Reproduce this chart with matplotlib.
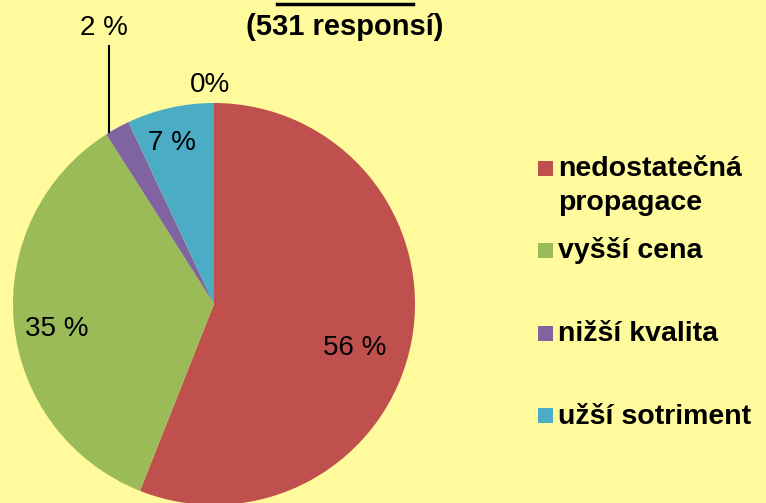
import matplotlib
matplotlib.use("Agg")
import matplotlib.pyplot as plt
from matplotlib.patches import Rectangle

plt.rcParams["font.family"] = ["Liberation Sans", "DejaVu Sans"]

# data
categories = ["nedostatečná\npropagace", "vyšší cena", "nižší kvalita", "užší sotriment"]
values = [56, 35, 2, 7]
labels = ["56 %", "35 %", "2 %", "7 %"]
colors = ["#C0504D", "#9BBB59", "#8064A2", "#4BACC6"]
extra_label = "0%"
subtitle = "(531 responsí)"

W, H = 766, 503
bg = "#FFFA9B"
fig = plt.figure(figsize=(W / 100, H / 100), dpi=100, facecolor=bg)


def fx(x):
    return x / W


def fy(y):
    return 1 - y / H


# pie: centre (214, 304) px, radius 201 px
cx, cy, r = 214, 304, 201
ax = fig.add_axes([fx(cx - r), fy(cy + r), 2 * r / W, 2 * r / H])
ax.set_facecolor("none")
wedges, _ = ax.pie(values, colors=colors, startangle=90, counterclock=False,
                   radius=1, wedgeprops=dict(linewidth=0))
ax.set_xlim(-1, 1)
ax.set_ylim(-1, 1)
ax.set_aspect("equal")
ax.axis("off")
for w in wedges:
    w.set_clip_on(False)

# label positions in pie units
label_pos = [(0.70, -0.22), (-0.78, -0.125), (-0.55, 1.375), (-0.21, 0.80)]
for txt, (x, y) in zip(labels, label_pos):
    ax.text(x, y, txt, ha="center", va="center", fontsize=20, clip_on=False)
ax.text(-0.02, 1.09, extra_label, ha="center", va="center", fontsize=20, clip_on=False)

# leader line for the small purple slice
ax.plot([-0.522, -0.522], [0.855, 1.285], color="black", lw=1.5, clip_on=False)

# subtitle and the underline of the cut-off title
fig.text(fx(345), fy(27), subtitle, ha="center", va="center",
         fontsize=21, fontweight="bold")
fig.add_artist(plt.Line2D([fx(277), fx(413)], [fy(3.5), fy(3.5)],
                          color="black", lw=2.5))

# legend drawn by hand, marker next to the first line of each entry
for i, (name, col) in enumerate(zip(categories, colors)):
    y = 168 + i * 82.5
    fig.add_artist(Rectangle((fx(538), fy(y + 7.5)), 15 / W, 15 / H,
                             facecolor=col, edgecolor="none",
                             transform=fig.transFigure))
    for j, line in enumerate(name.split("\n")):
        fig.text(fx(558), fy(y + 8 + j * 34), line, ha="left", va="baseline",
                 fontsize=20.5, fontweight="bold")

fig.savefig("out.png", dpi=100, facecolor=bg)
